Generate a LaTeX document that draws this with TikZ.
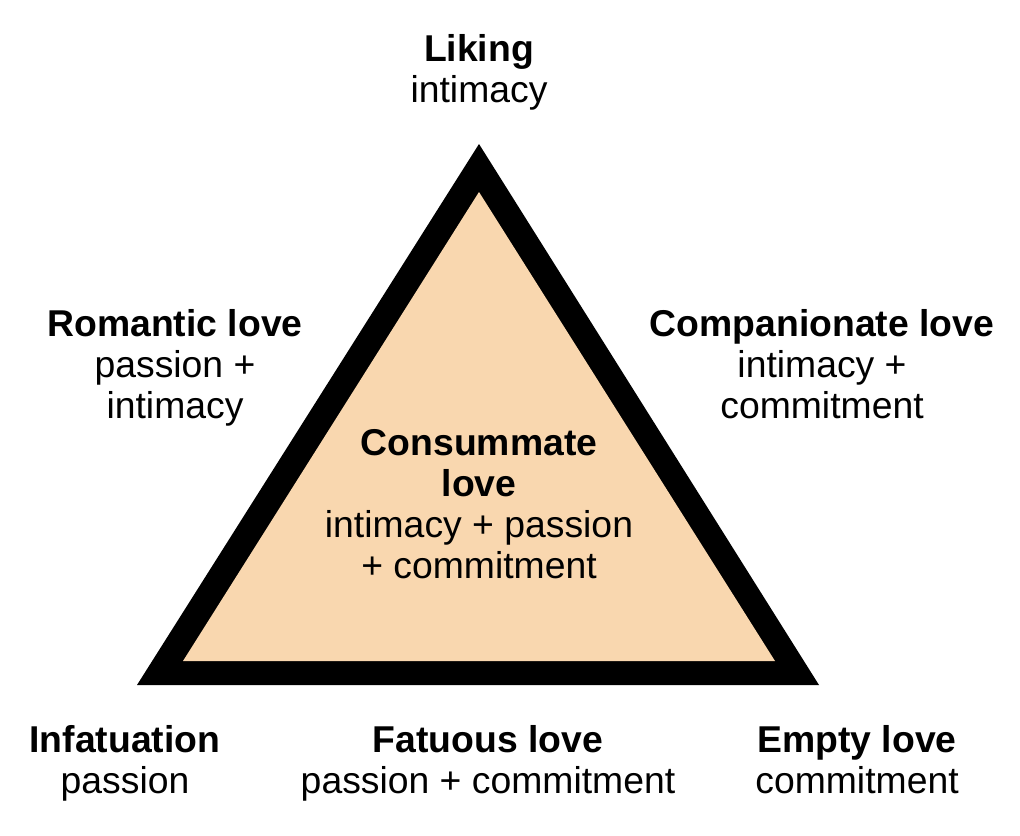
\documentclass[tikz,border=0pt]{standalone}
\usepackage{fontspec}
\setmainfont{Liberation Sans}
\definecolor{peach}{HTML}{F9D7AF}
\begin{document}
\begin{tikzpicture}[x=0.75pt,y=-0.75pt,
  lbl/.style={align=center,inner sep=0pt,font=\fontsize{28}{30.8}\selectfont}]
\useasboundingbox (0,0) rectangle (1020,835);
\coordinate (oA) at (479,144);
\coordinate (oB) at (137,685);
\coordinate (oC) at (819,685);
\coordinate (iA) at (479,192);
\coordinate (iB) at (183,661);
\coordinate (iC) at (775,661);
\fill[black] (oA) -- (oB) -- (oC) -- cycle;
\fill[peach] (iA) -- (iB) -- (iC) -- cycle;
\node[lbl] (liking) at (479,74) {\strut\textbf{Liking}\\intimacy\strut};
\node[lbl] (romantic) at (175,369) {\strut\textbf{Romantic love}\\passion +\\intimacy\strut};
\node[lbl] (companion) at (822,369) {\strut\textbf{Companionate love}\\intimacy +\\commitment\strut};
\node[lbl] (consummate) at (479,509) {\strut\textbf{Consummate}\\\textbf{love}\\intimacy + passion\\+ commitment\strut};
\node[lbl] (infat) at (125,765) {\strut\textbf{Infatuation}\\passion\strut};
\node[lbl] (fatuous) at (488,765) {\strut\textbf{Fatuous love}\\passion + commitment\strut};
\node[lbl] (empty) at (857,765) {\strut\textbf{Empty love}\\commitment\strut};
\end{tikzpicture}
\end{document}
